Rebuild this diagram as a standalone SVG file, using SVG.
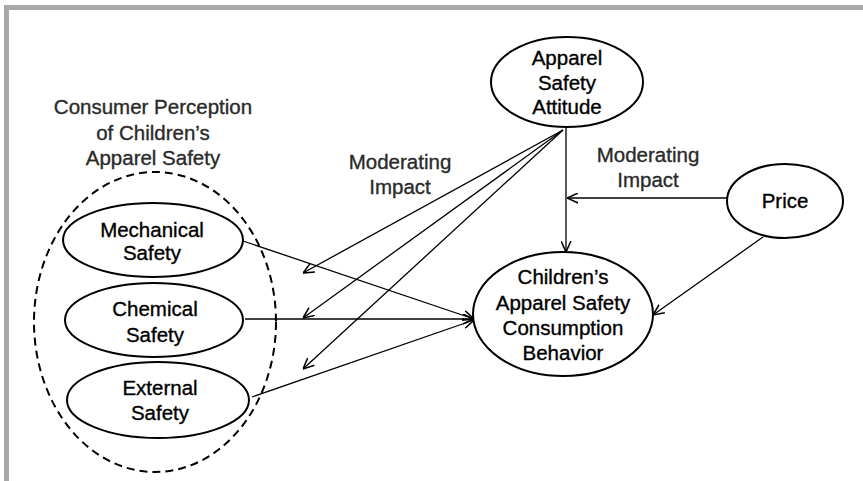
<svg xmlns="http://www.w3.org/2000/svg" width="863" height="481" viewBox="0 0 863 481">
<defs>
<style>
.node{fill:#fff;stroke:#000;stroke-width:2}
.t{font-family:"Liberation Sans",Arial,sans-serif;font-size:20.5px;fill:#000;stroke:#000;stroke-width:0.35;text-anchor:middle}
.lbl{font-family:"Liberation Sans",Arial,sans-serif;font-size:20.5px;fill:#2a2a2a;stroke:#2a2a2a;stroke-width:0.35;text-anchor:middle}
.c{fill:none;stroke:#000;stroke-width:1.3;marker-end:url(#ah)}
</style>
<marker id="ah" viewBox="0 0 10 10" refX="10" refY="5" markerWidth="11" markerHeight="11" markerUnits="userSpaceOnUse" orient="auto">
<path d="M0,0.5 L10,5 L0,9.5" fill="none" stroke="#000" stroke-width="1.4"/>
</marker>
</defs>
<rect width="863" height="481" fill="#fff"/>
<path d="M6.5,481 V7.5 H863" fill="none" stroke="#a8a8a8" stroke-width="5"/>

<g id="group-perception">
<ellipse cx="155" cy="322" rx="121" ry="150" fill="none" stroke="#000" stroke-width="2" stroke-dasharray="8,5"/>
<text class="lbl" x="153" y="114">Consumer Perception</text>
<text class="lbl" x="153" y="140">of Children’s</text>
<text class="lbl" x="153" y="165">Apparel Safety</text>
</g>

<g id="connectors">
<line class="c" x1="566" y1="127" x2="566" y2="252"/>
<line class="c" x1="727" y1="198" x2="567" y2="198"/>
<line class="c" x1="763" y1="237" x2="653" y2="315"/>
<line class="c" x1="243" y1="241" x2="474" y2="319"/>
<line class="c" x1="245" y1="319" x2="474" y2="319"/>
<line class="c" x1="252" y1="397" x2="474" y2="320"/>
<line class="c" x1="563" y1="130" x2="303" y2="273"/>
<line class="c" x1="563" y1="130" x2="303" y2="318"/>
<line class="c" x1="563" y1="130" x2="303" y2="369"/>
</g>

<g id="label-moderating-left">
<text class="lbl" x="400" y="169">Moderating</text>
<text class="lbl" x="400" y="194">Impact</text>
</g>
<g id="label-moderating-right">
<text class="lbl" x="648" y="162">Moderating</text>
<text class="lbl" x="648" y="187">Impact</text>
</g>

<g id="node-attitude">
<ellipse class="node" cx="567" cy="82" rx="76" ry="45"/>
<text class="t" x="567" y="65">Apparel</text>
<text class="t" x="567" y="90">Safety</text>
<text class="t" x="567" y="114">Attitude</text>
</g>

<g id="node-behavior">
<ellipse class="node" cx="563" cy="314" rx="90" ry="62"/>
<text class="t" x="563" y="284">Children’s</text>
<text class="t" x="563" y="310">Apparel Safety</text>
<text class="t" x="563" y="335">Consumption</text>
<text class="t" x="563" y="360">Behavior</text>
</g>

<g id="node-price">
<ellipse class="node" cx="785" cy="201" rx="58" ry="37"/>
<text class="t" x="785" y="208">Price</text>
</g>

<g id="node-mechanical">
<ellipse class="node" cx="153" cy="240" rx="90" ry="37"/>
<text class="t" x="152" y="237">Mechanical</text>
<text class="t" x="152" y="260">Safety</text>
</g>

<g id="node-chemical">
<ellipse class="node" cx="154" cy="320" rx="89" ry="37"/>
<text class="t" x="155" y="316">Chemical</text>
<text class="t" x="155" y="342">Safety</text>
</g>

<g id="node-external">
<ellipse class="node" cx="158" cy="400" rx="91" ry="38"/>
<text class="t" x="160" y="395">External</text>
<text class="t" x="160" y="420">Safety</text>
</g>
</svg>
